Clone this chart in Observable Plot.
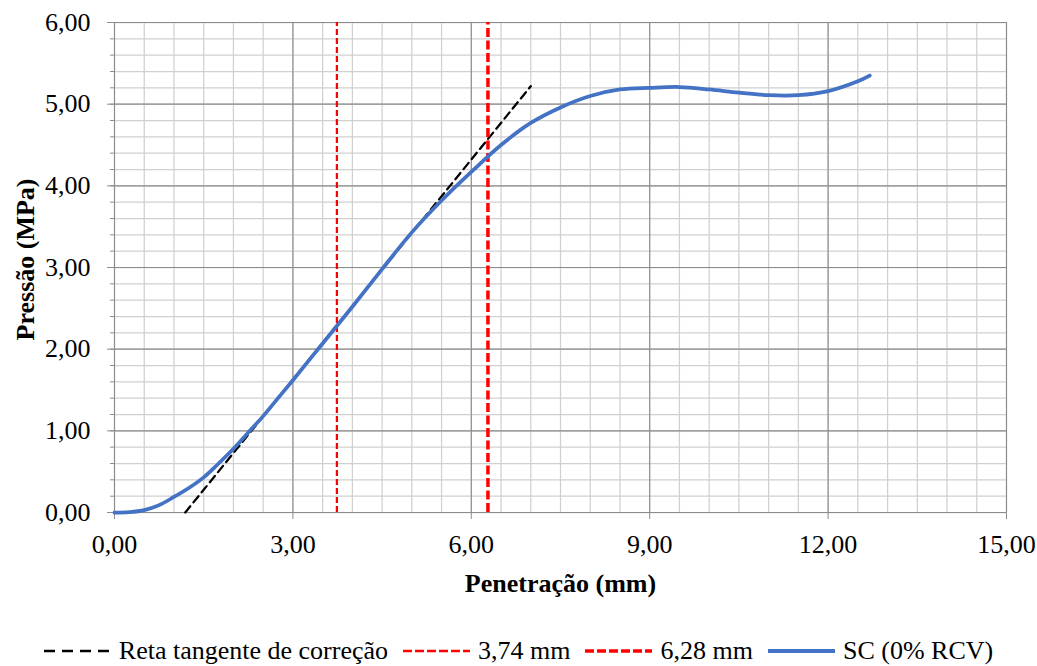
<!DOCTYPE html>
<html>
<head>
<meta charset="utf-8">
<script src="https://cdn.jsdelivr.net/npm/d3@7"></script>
<script src="https://cdn.jsdelivr.net/npm/@observablehq/plot@0.6"></script>
<style>
  html, body { margin: 0; padding: 0; background: white; overflow: hidden; }
  #legend { display: flex; justify-content: center; align-items: center; height: 30px;
    font-family: "Liberation Serif", "Times New Roman", serif; font-size: 26px; color: #000; white-space: nowrap; }
  .item { display: flex; align-items: center; margin: 0 7.5px; }
  .item svg { margin-right: 8px; }
</style>
</head>
<body>
<div id="chart"></div>
<div id="legend"></div>
<script>
// Curve data: SC (0% RCV)
const penetracao = [0, 0.25, 0.5, 0.75, 1.0, 1.25, 1.5, 1.75, 2.0, 2.25, 2.5, 2.75, 3.0, 3.5, 4.0, 4.5, 5.0, 5.5, 6.0, 6.5, 7.0, 7.5, 8.0, 8.5, 9.0, 9.5, 10.0, 10.5, 11.0, 11.5, 12.0, 12.5, 12.7];
const pressao    = [0, 0.005, 0.03, 0.09, 0.19, 0.30, 0.43, 0.60, 0.78, 0.98, 1.18, 1.40, 1.62, 2.07, 2.52, 2.98, 3.43, 3.82, 4.17, 4.50, 4.77, 4.96, 5.10, 5.18, 5.20, 5.21, 5.18, 5.14, 5.11, 5.11, 5.16, 5.28, 5.35];

// Tangent correction line endpoints
const tangenteX = [1.19, 7.0];
const tangenteY = [0, 5.22];

// Vertical reference lines (mm)
const refLines = [3.74, 6.28];

// Axis ticks
const xTicks = [0, 3, 6, 9, 12, 15];
const yTicks = [0, 1, 2, 3, 4, 5, 6];
const xTickLabels = ["0,00", "3,00", "6,00", "9,00", "12,00", "15,00"];
const yTickLabels = ["0,00", "1,00", "2,00", "3,00", "4,00", "5,00", "6,00"];
const xMinor = d3.range(0, 15.001, 0.5);
const yMinor = d3.range(0, 6.001, 0.2);

const seriesNames = ["Reta tangente de correção", "3,74 mm", "6,28 mm", "SC (0% RCV)"];

const curve = penetracao.map((x, i) => ({x, y: pressao[i]}));
const tangente = tangenteX.map((x, i) => ({x, y: tangenteY[i]}));
const fmtX = d => xTickLabels[xTicks.indexOf(d)];
const fmtY = d => yTickLabels[yTicks.indexOf(d)];

const font = "Liberation Serif, Times New Roman, serif";

const chart = Plot.plot({
  width: 1037,
  height: 636,
  marginLeft: 114,
  marginRight: 31,
  marginTop: 22,
  marginBottom: 124,
  style: {fontFamily: font, fontSize: "26px", background: "white", color: "#000"},
  x: {domain: [0, 15]},
  y: {domain: [0, 6]},
  marks: [
    Plot.ruleX(xMinor, {stroke: "#d0d0d0", strokeWidth: 1.25}),
    Plot.ruleY(yMinor, {stroke: "#d0d0d0", strokeWidth: 1.25}),
    Plot.ruleX(xTicks, {stroke: "#8c8c8c", strokeWidth: 1.1}),
    Plot.ruleY(yTicks, {stroke: "#8c8c8c", strokeWidth: 1.1}),
    Plot.axisY({ticks: yMinor, tickSize: 4, tickFormat: () => "", stroke: "#8c8c8c", label: null}),
    Plot.axisX({ticks: xTicks, tickFormat: fmtX, tickSize: 7, tickPadding: 15, stroke: "#8c8c8c", fill: "#000", fontSize: 26, label: null}),
    Plot.axisY({ticks: yTicks, tickFormat: fmtY, tickSize: 7, tickPadding: 17, stroke: "#8c8c8c", fill: "#000", fontSize: 26, label: null}),
    Plot.line(tangente, {x: "x", y: "y", stroke: "#000", strokeWidth: 2.25, strokeDasharray: "8,5"}),
    Plot.ruleX([refLines[0]], {y1: 0, y2: 6, stroke: "#ff0000", strokeWidth: 2.25, strokeDasharray: "6,3"}),
    Plot.ruleX([refLines[1]], {y1: 0, y2: 6, stroke: "#ff0000", strokeWidth: 3.5, strokeDasharray: "9,3.5"}),
    Plot.line(curve, {x: "x", y: "y", stroke: "#4472c4", strokeWidth: 3.75, curve: "catmull-rom", strokeLinecap: "round"}),
    Plot.text(["Penetração (mm)"], {text: d => d, frameAnchor: "bottom", lineAnchor: "middle", textAnchor: "middle", dy: 71, fontSize: 26, fontWeight: "bold", fill: "#000"}),
    Plot.text(["Pressão (MPa)"], {text: d => d, frameAnchor: "left", lineAnchor: "middle", textAnchor: "middle", rotate: -90, dx: -89, dy: -8, fontSize: 26, fontWeight: "bold", fill: "#000"})
  ]
});
document.getElementById("chart").appendChild(chart);

// Legend
const legendSymbols = [
  {stroke: "#000", width: 2.5, dash: "11,7"},
  {stroke: "#ff0000", width: 2.5, dash: "9,3"},
  {stroke: "#ff0000", width: 3.5, dash: "9,3"},
  {stroke: "#4472c4", width: 4, dash: null}
];
const legend = document.getElementById("legend");
seriesNames.forEach((name, i) => {
  const s = legendSymbols[i];
  const item = document.createElement("div");
  item.className = "item";
  item.innerHTML = `<svg width="67" height="10"><line x1="0" x2="67" y1="5" y2="5" stroke="${s.stroke}" stroke-width="${s.width}" ${s.dash ? `stroke-dasharray="${s.dash}"` : ""}/></svg><span>${name}</span>`;
  legend.appendChild(item);
});
</script>
</body>
</html>
